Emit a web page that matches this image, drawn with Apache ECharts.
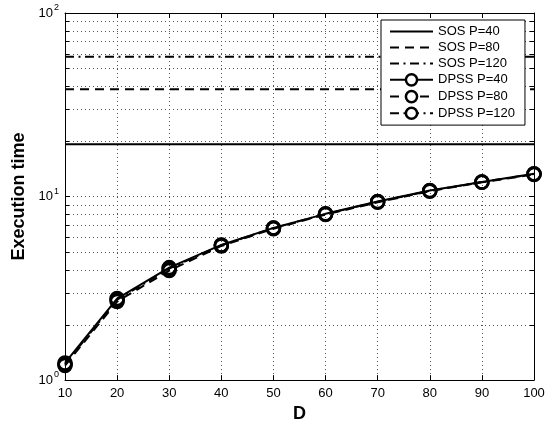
<!DOCTYPE html>
<html>
<head>
<meta charset="utf-8">
<script src="https://cdn.jsdelivr.net/npm/echarts@6/dist/echarts.min.js"></script>
<style>
html,body{margin:0;padding:0;background:#fff;}
#c{width:555px;height:428px;}
</style>
</head>
<body>
<div id="c"></div>
<script>
const dValues = [10, 20, 30, 40, 50, 60, 70, 80, 90, 100];
const sosP40  = [19.3, 19.3, 19.3, 19.3, 19.3, 19.3, 19.3, 19.3, 19.3, 19.3];
const sosP80  = [38.4, 38.4, 38.4, 38.4, 38.4, 38.4, 38.4, 38.4, 38.4, 38.4];
const sosP120 = [57.7, 57.7, 57.7, 57.7, 57.7, 57.7, 57.7, 57.7, 57.7, 57.7];
const dpssP40  = [1.24, 2.78, 4.10, 5.45, 6.75, 8.05, 9.40, 10.8, 12.0, 13.3];
const dpssP80  = [1.20, 2.68, 3.95, 5.38, 6.68, 7.98, 9.30, 10.7, 11.95, 13.2];
const dpssP120 = [1.22, 2.74, 4.05, 5.43, 6.73, 8.03, 9.36, 10.75, 12.0, 13.28];
const seriesNames = ['SOS P=40', 'SOS P=80', 'SOS P=120', 'DPSS P=40', 'DPSS P=80', 'DPSS P=120'];
const xTickLabels = ['10','20','30','40','50','60','70','80','90','100'];
const yMinorTicks = [2, 3, 4, 5, 6, 7, 8, 9, 20, 30, 40, 50, 60, 70, 80, 90];

const X_MIN = 10, X_MAX = 100, Y_MIN = 1, Y_MAX = 100;
const FONT = 'Liberation Sans, Arial, Helvetica, sans-serif';
const gridDot = { color: '#555', width: 1, type: [1, 3] };
const DASH = [9, 6];
const DASHDOT = [9, 4.5, 2, 4.5];
const CLEAR = 'rgba(0,0,0,0)';

function pairs(vals) { return dValues.map((d, i) => [d, vals[i]]); }

function lineSeries(name, vals, type, withSymbol) {
  return {
    name: name,
    type: 'line',
    data: pairs(vals),
    xAxisIndex: 0, yAxisIndex: 0,
    symbol: withSymbol ? 'circle' : 'none',
    symbolSize: 13,
    showSymbol: withSymbol,
    itemStyle: { color: CLEAR, borderColor: '#000', borderWidth: 2.5 },
    lineStyle: { color: '#000', width: 2, type: type },
    z: 3,
    animation: false
  };
}

const chart = echarts.init(document.getElementById('c'), null, { renderer: 'canvas' });

const legendData = seriesNames.map((n, i) => i < 3
  ? { name: n, itemStyle: { color: CLEAR, borderColor: CLEAR, borderWidth: 0, opacity: 0 } }
  : { name: n, itemStyle: { color: '#fff', borderColor: '#000', borderWidth: 2.5 } });

const option = {
  backgroundColor: '#fff',
  animation: false,
  textStyle: { fontFamily: FONT },
  grid: { left: 65, top: 13, right: 21, bottom: 46, containLabel: false },
  legend: {
    data: legendData,
    orient: 'vertical',
    left: 381, top: 20,
    padding: [5, 10, 5, 8],
    itemWidth: 43,
    itemHeight: 14,
    itemGap: 3,
    backgroundColor: '#fff',
    borderColor: '#000',
    borderWidth: 1,
    borderRadius: 0,
    textStyle: { fontFamily: FONT, fontSize: 13, color: '#000' },
    selectedMode: false
  },
  xAxis: [{
    type: 'value', min: X_MIN, max: X_MAX, interval: 10, position: 'bottom',
    name: 'D', nameLocation: 'middle', nameGap: 21,
    nameTextStyle: { fontFamily: FONT, fontSize: 18, fontWeight: 'bold', color: '#000' },
    axisLine: { show: true, lineStyle: { color: '#000', width: 1 } },
    axisTick: { show: true, inside: true, length: 5, lineStyle: { color: '#000' } },
    axisLabel: { color: '#000', fontSize: 13, fontFamily: FONT, margin: 7,
      formatter: function (v) { return xTickLabels[dValues.indexOf(v)] || ''; } },
    splitLine: { show: true, lineStyle: gridDot }
  }, {
    type: 'value', min: X_MIN, max: X_MAX, interval: 10, position: 'top',
    axisLine: { show: true, onZero: false, lineStyle: { color: '#000', width: 1 } },
    axisTick: { show: true, inside: true, length: 5, lineStyle: { color: '#000' } },
    axisLabel: { show: false },
    splitLine: { show: false }
  }],
  yAxis: [{
    type: 'log', logBase: 10, min: Y_MIN, max: Y_MAX, position: 'left',
    name: 'Execution time', nameLocation: 'middle', nameGap: 34, nameRotate: 90,
    nameTextStyle: { fontFamily: FONT, fontSize: 18, fontWeight: 'bold', color: '#000' },
    axisLine: { show: true, lineStyle: { color: '#000', width: 1 } },
    axisTick: { show: true, inside: true, length: 5, lineStyle: { color: '#000' } },
    axisLabel: {
      color: '#000', fontFamily: FONT, margin: 6,
      formatter: function (v) {
        const e = Math.round(Math.log10(v));
        return '{b|10}{s|' + e + '}';
      },
      rich: {
        b: { fontSize: 13, fontFamily: FONT, color: '#000' },
        s: { fontSize: 9, fontFamily: FONT, color: '#000', padding: [0, 0, 11, 1] }
      }
    },
    splitLine: { show: true, lineStyle: gridDot }
  }, {
    type: 'log', logBase: 10, min: Y_MIN, max: Y_MAX, position: 'right',
    axisLine: { show: true, onZero: false, lineStyle: { color: '#000', width: 1 } },
    axisTick: { show: true, inside: true, length: 5, lineStyle: { color: '#000' } },
    axisLabel: { show: false },
    splitLine: { show: false }
  }],
  series: [
    {
      type: 'custom',
      name: 'minorGrid',
      xAxisIndex: 0, yAxisIndex: 0,
      silent: true,
      z: 1,
      data: yMinorTicks.map(v => [X_MIN, v]),
      encode: { x: 0, y: 1 },
      renderItem: function (params, api) {
        const v = api.value(1);
        const p1 = api.coord([X_MIN, v]);
        const p2 = api.coord([X_MAX, v]);
        const y = Math.round(p1[1]) + 0.5;
        return {
          type: 'group',
          children: [
            { type: 'line', shape: { x1: p1[0], y1: y, x2: p2[0], y2: y },
              style: { stroke: '#555', lineWidth: 1, lineDash: [1, 3] } },
            { type: 'line', shape: { x1: p1[0], y1: y, x2: p1[0] + 4, y2: y },
              style: { stroke: '#000', lineWidth: 1 } },
            { type: 'line', shape: { x1: p2[0] - 4, y1: y, x2: p2[0], y2: y },
              style: { stroke: '#000', lineWidth: 1 } }
          ]
        };
      }
    },
    lineSeries(seriesNames[0], sosP40, 'solid', false),
    lineSeries(seriesNames[1], sosP80, DASH, false),
    lineSeries(seriesNames[2], sosP120, DASHDOT, false),
    lineSeries(seriesNames[3], dpssP40, 'solid', true),
    lineSeries(seriesNames[4], dpssP80, DASH, true),
    lineSeries(seriesNames[5], dpssP120, DASHDOT, true)
  ]
};
chart.setOption(option);
</script>
</body>
</html>
